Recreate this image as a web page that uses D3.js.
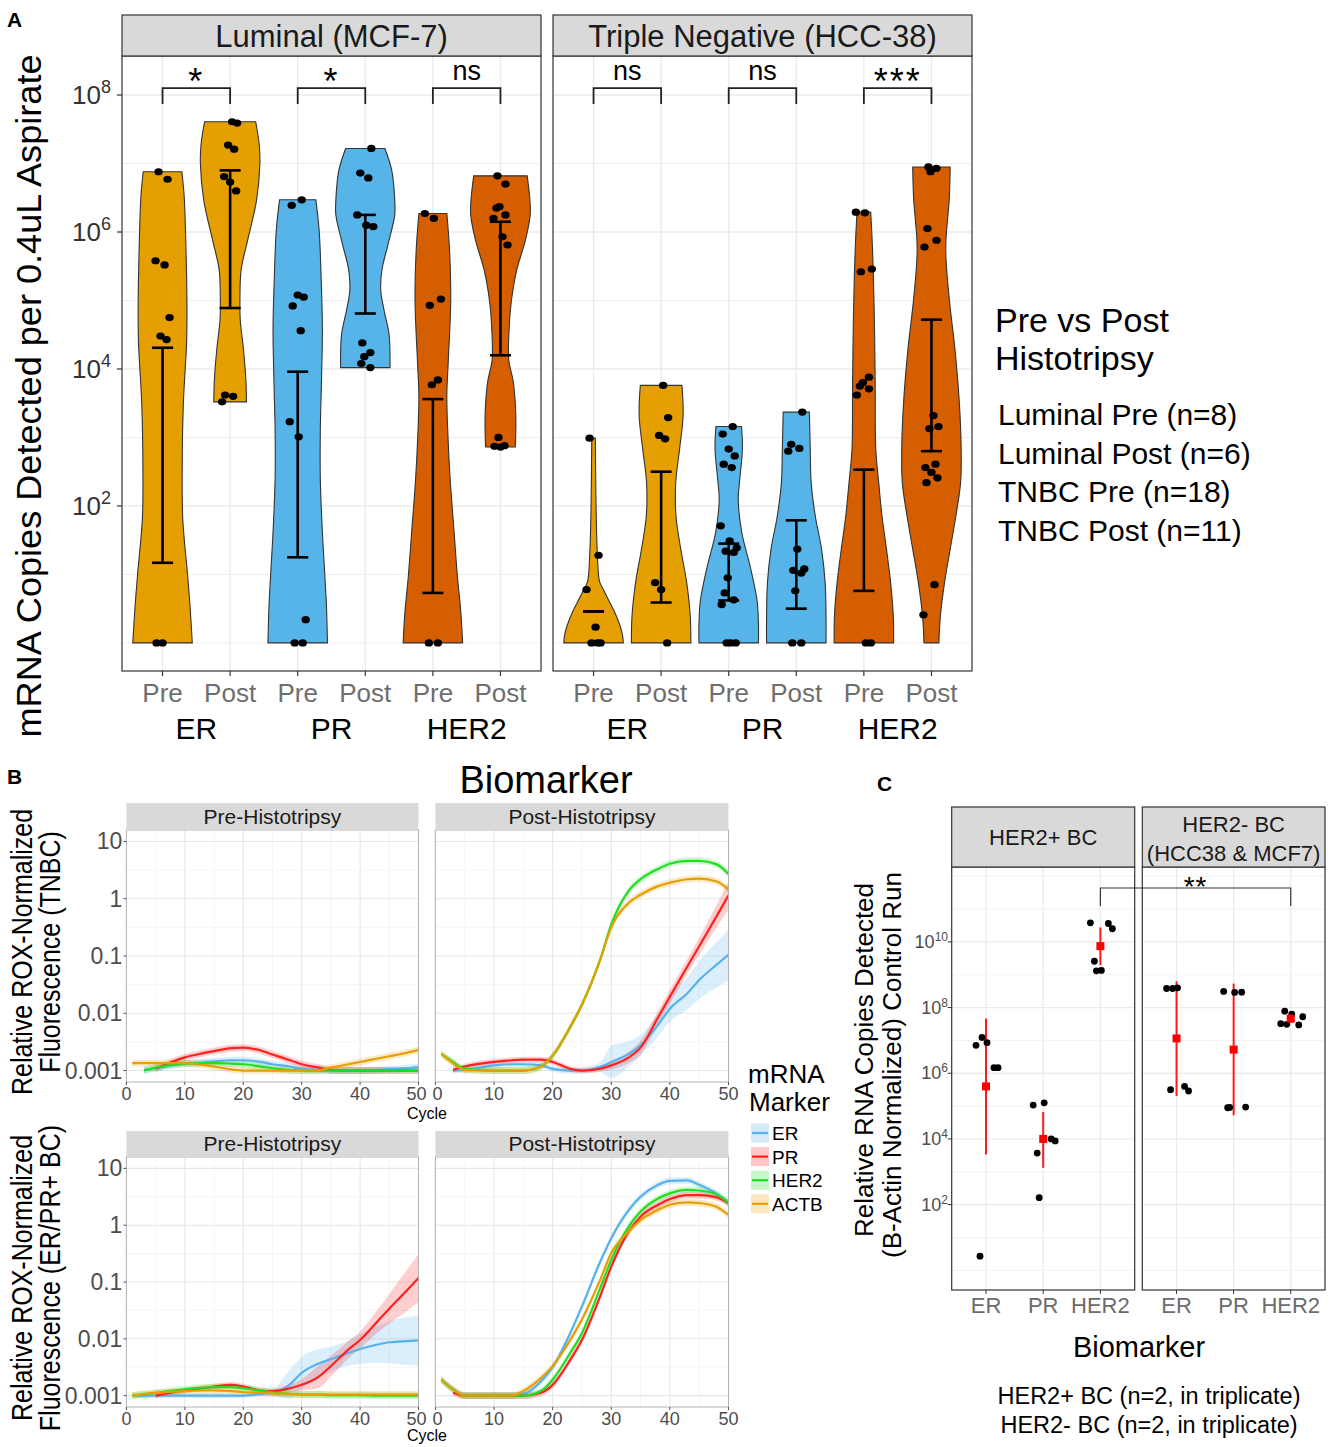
<!DOCTYPE html>
<html lang="en">
<head>
<meta charset="UTF-8">
<title>Histotripsy biomarker figure</title>
<script src="https://cdn.jsdelivr.net/npm/d3@7"></script>
<style>
  body { margin: 0; background: #fff; }
  svg { font-family: "Liberation Sans", Arial, sans-serif; }
</style>
</head>
<body>
<script>
// ================= DATA =================
// ---- Panel A: log10 mRNA copies per 0.4uL aspirate (0 = none detected) ----
const markers = ["ER", "PR", "HER2"];
const phases = ["Pre", "Post"];
const cohortsA = ["Luminal (MCF-7)", "Triple Negative (HCC-38)"];
const sigLum = ["*", "*", "ns"];
const sigTn = ["ns", "ns", "***"];

const lumErPre = [6.88, 6.77, 5.58, 5.52, 4.75, 4.48, 4.43, 0, 0];
const lumErPost = [7.61, 7.59, 7.27, 7.21, 6.81, 6.73, 6.60, 3.62, 3.60, 3.52];
const lumPrPre = [6.47, 6.39, 5.08, 5.05, 4.92, 4.56, 3.23, 3.01, 0.34, 0, 0];
const lumPrPost = [7.22, 6.86, 6.79, 6.25, 6.10, 6.08, 4.38, 4.24, 4.18, 4.08, 4.02];
const lumHer2Pre = [6.27, 6.20, 5.02, 4.93, 3.84, 3.77, 0, 0];
const lumHer2Post = [6.82, 6.70, 6.37, 6.35, 6.25, 6.20, 5.93, 5.81, 3.0, 2.88, 2.87, 2.86];
const tnErPre = [2.99, 1.28, 0.78, 0.23, 0, 0, 0];
const tnErPost = [3.76, 3.29, 3.03, 2.98, 0.88, 0.78, 0];
const tnPrPre = [3.16, 3.05, 2.83, 2.73, 2.61, 2.56, 1.71, 1.49, 1.39, 1.34, 1.32, 0.95, 0.73, 0.63, 0.56, 0, 0, 0];
const tnPrPost = [3.37, 2.90, 2.84, 2.80, 1.37, 1.08, 1.06, 1.02, 0.76, 0, 0];
const tnHer2Pre = [6.29, 6.28, 5.46, 5.42, 3.88, 3.80, 3.75, 3.71, 3.62, 0, 0];
const tnHer2Post = [6.95, 6.93, 6.88, 6.05, 5.88, 5.78, 3.32, 3.16, 3.13, 2.61, 2.56, 2.49, 2.41, 2.34, 0.85, 0.41];

// error bars (log10), order ER Pre, ER Post, PR Pre, PR Post, HER2 Pre, HER2 Post
const lumErrLow = [1.17, 4.89, 1.25, 4.81, 0.73, 4.20];
const lumErrHigh = [4.31, 6.90, 3.96, 6.25, 3.56, 6.15];
const tnErrLow = [0.46, 0.59, 0.62, 0.50, 0.76, 2.80];
const tnErrHigh = [0.46, 2.50, 1.45, 1.79, 2.53, 4.72];

// violin outlines: [log10 level, relative width]
const lumErPreShape = [[0,1.0],[0.5,0.93],[1.0,0.84],[1.8,0.68],[2.5,0.66],[3.5,0.70],[4.4,0.81],[5.0,0.82],[5.7,0.79],[6.5,0.73],[6.88,0.65]];
const lumErPostShape = [[3.52,0.55],[3.84,0.53],[4.28,0.45],[4.72,0.34],[5.0,0.33],[5.45,0.37],[5.88,0.59],[6.47,0.89],[7.0,1.0],[7.27,0.98],[7.61,0.86]];
const lumPrPreShape = [[0,1.0],[0.5,0.97],[1.0,0.91],[1.7,0.82],[2.4,0.76],[3.1,0.76],[3.84,0.8],[4.57,0.83],[5.3,0.79],[6.03,0.72],[6.47,0.61]];
const lumPrPostShape = [[4.02,0.83],[4.5,0.8],[4.86,0.63],[5.15,0.52],[5.45,0.56],[5.81,0.76],[6.25,0.99],[6.47,0.99],[6.9,0.89],[7.22,0.66]];
const lumHer2PreShape = [[0,1.0],[0.45,0.94],[1.0,0.82],[1.7,0.7],[2.4,0.58],[3.1,0.5],[3.62,0.47],[4.13,0.52],[5.0,0.6],[5.74,0.56],[6.27,0.47]];
const lumHer2PostShape = [[2.86,0.5],[3.2,0.52],[3.5,0.5],[3.84,0.42],[4.13,0.28],[4.57,0.29],[5.0,0.37],[5.45,0.55],[5.88,0.84],[6.25,1.0],[6.47,0.99],[6.82,0.9]];
const tnErPreShape = [[0,1.0],[0.1,0.98],[0.24,0.9],[0.46,0.7],[0.63,0.5],[0.78,0.33],[0.9,0.2],[1.28,0.13],[1.85,0.09],[2.5,0.07],[2.99,0.06]];
const tnErPostShape = [[0,1.0],[0.39,0.98],[0.88,0.86],[1.37,0.66],[1.85,0.5],[2.34,0.49],[2.83,0.62],[3.32,0.74],[3.76,0.7]];
const tnPrPreShape = [[0,1.0],[0.29,1.0],[0.63,0.95],[1.12,0.72],[1.61,0.44],[2.1,0.32],[2.34,0.36],[2.83,0.46],[3.16,0.43]];
const tnPrPostShape = [[0,1.0],[0.39,1.0],[0.88,0.97],[1.37,0.85],[1.85,0.64],[2.34,0.5],[2.83,0.47],[3.37,0.44]];
const tnHer2PreShape = [[0,1.0],[0.39,0.99],[0.88,0.9],[1.37,0.76],[1.85,0.61],[2.34,0.5],[2.83,0.4],[3.8,0.38],[4.78,0.35],[5.76,0.29],[6.29,0.23]];
const tnHer2PostShape = [[0,0.25],[0.39,0.3],[0.88,0.44],[1.37,0.63],[1.85,0.82],[2.34,0.98],[2.83,1.0],[3.56,0.93],[4.29,0.79],[5.02,0.6],[5.76,0.48],[6.49,0.6],[6.95,0.63]];

const legendA = ["Luminal Pre (n=8)", "Luminal Post (n=6)", "TNBC Pre (n=18)", "TNBC Post (n=11)"];

// ---- Panel B: log10 relative ROX-normalized fluorescence by cycle ----
const bMarkers = ["ER", "PR", "HER2", "ACTB"];
const bCycles = [1, 3, 5, 10, 13, 15, 18, 20, 23, 25, 28, 30, 33, 35, 38, 40, 43, 45, 48, 50];

const tnPreER = [null, -2.99, -2.96, -2.88, -2.86, -2.84, -2.82, -2.82, -2.85, -2.89, -2.93, -2.97, -2.99, -3.0, -3.0, -3.0, -2.99, -2.98, -2.96, -2.94];
const tnPrePR = [null, null, -2.97, -2.77, -2.70, -2.66, -2.61, -2.60, -2.65, -2.72, -2.82, -2.89, -2.95, -2.99, -3.0, -3.0, -3.0, -3.0, -3.0, -3.0];
const tnPreHER2 = [null, -3.0, -2.95, -2.88, -2.87, -2.87, -2.88, -2.89, -2.93, -2.96, -2.99, -3.0, -3.0, -3.0, -3.0, -3.0, -3.0, -3.0, -3.0, -3.0];
const tnPreACTB = [-2.87, -2.87, -2.87, -2.87, -2.90, -2.93, -2.98, -3.0, -3.0, -3.0, -3.0, -3.0, -2.99, -2.95, -2.89, -2.85, -2.79, -2.75, -2.69, -2.64];

const tnPostER = [null, -3.0, -2.99, -2.91, -2.89, -2.89, -2.91, -2.97, -3.0, -3.0, -2.94, -2.85, -2.71, -2.56, -2.2, -1.92, -1.65, -1.42, -1.15, -0.98];
const tnPostPR = [null, -2.99, -2.93, -2.85, -2.82, -2.81, -2.81, -2.85, -2.97, -3.0, -2.97, -2.91, -2.77, -2.6, -2.07, -1.71, -1.18, -0.83, -0.3, 0.06];
const tnPostHER2 = [-2.71, -2.85, -2.97, -3.0, -3.0, -3.0, -2.93, -2.74, -2.24, -1.85, -1.1, -0.45, 0.14, 0.34, 0.52, 0.61, 0.66, 0.66, 0.6, 0.43];
const tnPostACTB = [-2.71, -2.87, -2.99, -3.0, -3.0, -3.0, -2.93, -2.74, -2.24, -1.85, -1.1, -0.5, -0.07, 0.07, 0.22, 0.28, 0.34, 0.35, 0.3, 0.16];

const lumPreER = [-3.0, -3.0, -3.0, -3.0, -3.0, -3.0, -3.0, -3.0, -2.97, -2.95, -2.8, -2.6, -2.43, -2.36, -2.25, -2.18, -2.1, -2.06, -2.04, -2.03];
const lumPrePR = [null, null, -3.0, -2.91, -2.87, -2.84, -2.81, -2.84, -2.91, -2.92, -2.87, -2.81, -2.66, -2.48, -2.19, -2.02, -1.69, -1.47, -1.15, -0.93];
const lumPreHER2 = [-3.0, -2.98, -2.95, -2.89, -2.86, -2.85, -2.85, -2.87, -2.91, -2.94, -2.97, -2.98, -2.98, -2.99, -2.99, -2.99, -3.0, -3.0, -3.0, -3.0];
const lumPreACTB = [-3.0, -2.97, -2.95, -2.92, -2.91, -2.91, -2.92, -2.94, -2.95, -2.96, -2.97, -2.98, -2.98, -2.98, -2.98, -2.98, -2.98, -2.98, -2.98, -2.98];

const lumPostER = [-2.72, -2.89, -3.0, -3.0, -3.0, -2.97, -2.75, -2.5, -1.9, -1.43, -0.67, -0.23, 0.27, 0.5, 0.71, 0.78, 0.79, 0.71, 0.55, 0.39];
const lumPostPR = [null, -2.95, -3.0, -3.0, -3.0, -3.0, -2.95, -2.81, -2.37, -2.02, -1.28, -0.73, -0.11, 0.15, 0.36, 0.46, 0.53, 0.53, 0.49, 0.39];
const lumPostHER2 = [-2.72, -2.89, -3.0, -3.0, -3.0, -3.0, -2.92, -2.72, -2.25, -1.9, -1.14, -0.61, -0.02, 0.24, 0.47, 0.56, 0.62, 0.61, 0.54, 0.39];
const lumPostACTB = [-2.72, -2.89, -3.0, -3.0, -3.0, -2.92, -2.69, -2.48, -2.02, -1.66, -0.99, -0.49, -0.11, 0.09, 0.27, 0.36, 0.40, 0.39, 0.32, 0.18];

// confidence band half-widths (decades) where the band is visibly wide
const tnPostERBand = [null, 0.05, 0.05, 0.05, 0.05, 0.05, 0.05, 0.05, 0.05, 0.05, 0.08, 0.28, 0.22, 0.18, 0.2, 0.23, 0.28, 0.33, 0.4, 0.44];
const tnPostPRBand = [null, 0.05, 0.05, 0.05, 0.05, 0.05, 0.05, 0.05, 0.05, 0.05, 0.05, 0.07, 0.1, 0.12, 0.12, 0.12, 0.13, 0.15, 0.2, 0.25];
const lumPreERBand = [0.04, 0.04, 0.04, 0.04, 0.04, 0.04, 0.04, 0.04, 0.04, 0.06, 0.26, 0.28, 0.25, 0.22, 0.22, 0.26, 0.32, 0.37, 0.42, 0.44];
const lumPrePRBand = [null, null, 0.05, 0.05, 0.05, 0.05, 0.05, 0.05, 0.05, 0.05, 0.06, 0.1, 0.2, 0.18, 0.15, 0.15, 0.2, 0.26, 0.36, 0.42];

// ---- Panel C: log10 relative RNA copies (B-actin normalized) ----
const cFacets = ["HER2+ BC", "HER2- BC (HCC38 & MCF7)"];
const cPosEr = [7.09, 6.93, 6.85, 6.17, 6.17, 0.43];
const cPosPr = [5.10, 5.03, 4.00, 3.94, 3.57, 2.21];
const cPosHer2 = [10.58, 10.56, 10.40, 9.41, 9.12, 9.13];
const cNegEr = [8.58, 8.60, 8.58, 5.60, 5.46, 5.50];
const cNegPr = [8.46, 8.49, 8.47, 4.97, 4.95, 4.96];
const cNegHer2 = [7.51, 7.47, 7.72, 7.89, 7.49, 7.80];
const cPosMean = [5.60, 4.00, 9.87], cPosLow = [3.53, 3.12, 9.29], cPosHigh = [7.66, 4.82, 10.44];
const cNegMean = [7.06, 6.72, 7.66], cNegLow = [5.31, 4.72, 7.53], cNegHigh = [8.80, 8.73, 7.82];
const cFootnotes = ["HER2+ BC (n=2, in triplicate)", "HER2- BC (n=2, in triplicate)"];

// ================= DRAWING =================
const markerFill = {ER: "#E69F00", PR: "#56B4E9", HER2: "#D55E00"};
const bColors = ["#56B1EC", "#FF2020", "#22DD22", "#E69F00"];
const jit = [-4, 5, -7, 2, 7, -2, 4, -6, 0, 6, -5, 3, -8, 1, 8, -3, 5, -1];
const jitC = [-4, 1, -10, 8, 12, -6];

const svg = d3.select("body").append("svg").attr("width", 1333).attr("height", 1447);
const defs = svg.append("defs");

function line(g, x1, y1, x2, y2, col, w) {
  return g.append("line").attr("x1", x1).attr("y1", y1).attr("x2", x2).attr("y2", y2)
    .attr("stroke", col).attr("stroke-width", w);
}
function txt(g, x, y, s, size, opts = {}) {
  return g.append("text").attr("x", x).attr("y", y).attr("font-size", size)
    .attr("text-anchor", opts.anchor || "start").attr("fill", opts.fill || "#000").text(s);
}
function supText(g, x, y, base, exp, size, supSize, rise, fill) {
  const t = g.append("text").attr("x", x).attr("y", y).attr("font-size", size)
    .attr("text-anchor", "end").attr("fill", fill);
  t.append("tspan").text(base);
  t.append("tspan").attr("font-size", supSize).attr("dy", -rise).text(exp);
}

// ---------- Panel A ----------
const gA = svg.append("g");
txt(gA, 7, 27, "A", 21).attr("font-weight", "bold");
const yA = d3.scaleLinear().domain([-0.41, 8.57]).range([671, 56]);
const groupKeys = markers.flatMap(m => phases.map(p => m + " " + p));
const facetsA = [
  {title: cohortsA[0], x0: 122, x1: 541, sig: sigLum, lo: lumErrLow, hi: lumErrHigh,
   pts: [lumErPre, lumErPost, lumPrPre, lumPrPost, lumHer2Pre, lumHer2Post],
   shapes: [lumErPreShape, lumErPostShape, lumPrPreShape, lumPrPostShape, lumHer2PreShape, lumHer2PostShape]},
  {title: cohortsA[1], x0: 553, x1: 972, sig: sigTn, lo: tnErrLow, hi: tnErrHigh,
   pts: [tnErPre, tnErPost, tnPrPre, tnPrPost, tnHer2Pre, tnHer2Post],
   shapes: [tnErPreShape, tnErPostShape, tnPrPreShape, tnPrPostShape, tnHer2PreShape, tnHer2PostShape]}
];
facetsA.forEach((f, fi) => {
  const x = d3.scalePoint().domain(groupKeys).range([f.x0, f.x1]).padding(0.6);
  const hw = x.step() * 0.44;
  const g = gA.append("g");
  [0, 1, 3, 5, 7].forEach(v => line(g, f.x0, yA(v), f.x1, yA(v), "#ededed", 0.9));
  [2, 4, 6, 8].forEach(v => line(g, f.x0, yA(v), f.x1, yA(v), "#ebebeb", 1.4));
  groupKeys.forEach(k => line(g, x(k), 56, x(k), 671, "#ebebeb", 1.4));

  groupKeys.forEach((k, i) => {
    const cx = x(k);
    const area = d3.area().curve(d3.curveCatmullRom.alpha(0.5))
      .y(d => yA(d[0])).x0(d => cx - hw * d[1]).x1(d => cx + hw * d[1]);
    g.append("path").attr("d", area(f.shapes[i]))
      .attr("fill", markerFill[markers[Math.floor(i / 2)]]).attr("stroke", "#333").attr("stroke-width", 1.1);
  });
  groupKeys.forEach((k, i) => {
    const cx = x(k), lo = yA(f.lo[i]), hi = yA(f.hi[i]);
    line(g, cx, lo, cx, hi, "#000", 2.6);
    line(g, cx - 10.5, lo, cx + 10.5, lo, "#000", 2.6);
    line(g, cx - 10.5, hi, cx + 10.5, hi, "#000", 2.6);
  });
  groupKeys.forEach((k, i) => {
    g.selectAll(null).data(f.pts[i]).join("ellipse")
      .attr("cx", (d, j) => x(k) + jit[(j + i * 3) % jit.length])
      .attr("cy", d => yA(d)).attr("rx", 4.2).attr("ry", 3.6).attr("fill", "#000");
  });
  g.append("rect").attr("x", f.x0).attr("y", 56).attr("width", f.x1 - f.x0).attr("height", 615)
    .attr("fill", "none").attr("stroke", "#333").attr("stroke-width", 1.2);
  g.append("rect").attr("x", f.x0).attr("y", 15).attr("width", f.x1 - f.x0).attr("height", 41)
    .attr("fill", "#d9d9d9").attr("stroke", "#333").attr("stroke-width", 1.2);
  txt(g, (f.x0 + f.x1) / 2, 47, f.title, 31, {anchor: "middle", fill: "#1a1a1a"});

  // significance brackets
  markers.forEach((m, j) => {
    const xa = x(m + " Pre"), xb = x(m + " Post");
    const yt = yA(8.10), yl = yA(7.87);
    g.append("path").attr("d", `M${xa},${yl}V${yt}H${xb}V${yl}`)
      .attr("fill", "none").attr("stroke", "#222").attr("stroke-width", 1.8);
    const s = f.sig[j];
    if (s === "ns") txt(g, (xa + xb) / 2, 80, s, 27, {anchor: "middle"});
    else txt(g, (xa + xb) / 2, 94, s, 36, {anchor: "middle"}).attr("letter-spacing", 2);
  });

  // x axis
  groupKeys.forEach((k, i) => {
    line(g, x(k), 671, x(k), 676, "#333", 1.2);
    txt(g, x(k), 702, phases[i % 2], 26, {anchor: "middle", fill: "#6e6e6e"});
  });
  markers.forEach(m => txt(g, (x(m + " Pre") + x(m + " Post")) / 2, 739, m, 30, {anchor: "middle"}));

  if (fi === 0) {
    [2, 4, 6, 8].forEach(v => {
      line(g, 117, yA(v), 122, yA(v), "#333", 1.2);
      supText(g, 111, yA(v) + 9, "10", String(v), 26, 18, 11, "#333");
    });
  }
});
gA.append("text").attr("transform", "translate(41,396) rotate(-90)").attr("text-anchor", "middle")
  .attr("font-size", 35).attr("textLength", 683).attr("lengthAdjust", "spacingAndGlyphs")
  .text("mRNA Copies Detected per 0.4uL Aspirate");
txt(gA, 995, 332, "Pre vs Post", 34);
txt(gA, 995, 370, "Histotripsy", 34);
legendA.forEach((s, i) => txt(gA, 998, 425 + i * 38.5, s, 30));

// ---------- Panel B ----------
const gB = svg.append("g");
txt(gB, 7, 784, "B", 21).attr("font-weight", "bold");
txt(gB, 546, 793, "Biomarker", 38, {anchor: "middle"});
const bRows = [
  {title: ["Relative ROX-Normalized", "Fluorescence (TNBC)"], strip: 803, top: 830, bot: 1082, tickBase: 1100, cycleBase: 1119},
  {title: ["Relative ROX-Normalized", "Fluorescence (ER/PR+ BC)"], strip: 1131, top: 1157, bot: 1407, tickBase: 1425, cycleBase: 1441}
];
bRows[0].series = [[tnPreER, tnPrePR, tnPreHER2, tnPreACTB], [tnPostER, tnPostPR, tnPostHER2, tnPostACTB]];
bRows[0].bands = [[null, null, null, null], [tnPostERBand, tnPostPRBand, null, null]];
bRows[1].series = [[lumPreER, lumPrePR, lumPreHER2, lumPreACTB], [lumPostER, lumPostPR, lumPostHER2, lumPostACTB]];
bRows[1].bands = [[lumPreERBand, lumPrePRBand, null, null], [null, null, null, null]];
const bCols = [{name: "Pre-Histotripsy", x0: 126.4, x1: 418.5}, {name: "Post-Histotripsy", x0: 435.4, x1: 728.5}];
const fmtB = v => v < 0 ? Math.pow(10, v).toFixed(-v) : String(Math.pow(10, v));

bRows.forEach((r, ri) => {
  const y = d3.scaleLinear().domain([-3.2, 1.2]).range([r.bot, r.top]);
  bCols.forEach((c, ci) => {
    const x = d3.scaleLinear().domain([0, 50]).range([c.x0, c.x1]);
    const g = gB.append("g");
    const cid = `clipB${ri}${ci}`;
    defs.append("clipPath").attr("id", cid).append("rect")
      .attr("x", c.x0).attr("y", r.top).attr("width", c.x1 - c.x0).attr("height", r.bot - r.top);
    [-2.5, -1.5, -0.5, 0.5].forEach(v => line(g, c.x0, y(v), c.x1, y(v), "#f2f2f2", 0.8));
    [5, 15, 25, 35, 45].forEach(v => line(g, x(v), r.top, x(v), r.bot, "#f2f2f2", 0.8));
    [-3, -2, -1, 0, 1].forEach(v => line(g, c.x0, y(v), c.x1, y(v), "#e6e6e6", 1.1));
    [0, 10, 20, 30, 40, 50].forEach(v => line(g, x(v), r.top, x(v), r.bot, "#e6e6e6", 1.1));

    const pg = g.append("g").attr("clip-path", `url(#${cid})`);
    r.series[ci].forEach((vals, si) => {
      const band = r.bands[ci][si];
      const pts = bCycles.map((cy, k) => ({c: cy, v: vals[k], b: band ? band[k] : 0.06}));
      const area = d3.area().defined(d => d.v != null && d.b != null).curve(d3.curveMonotoneX)
        .x(d => x(d.c)).y0(d => y(d.v - d.b)).y1(d => y(d.v + d.b));
      pg.append("path").attr("d", area(pts)).attr("fill", bColors[si]).attr("opacity", 0.22);
    });
    r.series[ci].forEach((vals, si) => {
      const pts = bCycles.map((cy, k) => ({c: cy, v: vals[k]}));
      const ln = d3.line().defined(d => d.v != null).curve(d3.curveMonotoneX)
        .x(d => x(d.c)).y(d => y(d.v));
      pg.append("path").attr("d", ln(pts)).attr("fill", "none").attr("stroke", bColors[si]).attr("stroke-width", 2.2);
    });
    g.append("rect").attr("x", c.x0).attr("y", r.top).attr("width", c.x1 - c.x0).attr("height", r.bot - r.top)
      .attr("fill", "none").attr("stroke", "#b3b3b3").attr("stroke-width", 1);
    g.append("rect").attr("x", c.x0).attr("y", r.strip).attr("width", c.x1 - c.x0).attr("height", r.top - r.strip)
      .attr("fill", "#d9d9d9");
    txt(g, (c.x0 + c.x1) / 2, (r.strip + r.top) / 2 + 7, c.name, 21, {anchor: "middle", fill: "#1a1a1a"});
    [0, 10, 20, 30, 40, 50].forEach(v => {
      line(g, x(v), r.bot, x(v), r.bot + 3, "#555", 1);
      // the touching "50 | 0" pair between panels is nudged apart slightly
      const nudge = (ci === 0 && v === 50) ? -2 : (ci === 1 && v === 0) ? 2 : 0;
      txt(g, x(v) + nudge, r.tickBase, String(v), 18, {anchor: "middle", fill: "#4d4d4d"});
    });
    if (ci === 0) {
      [-3, -2, -1, 0, 1].forEach(v => {
        line(g, c.x0 - 3, y(v), c.x0, y(v), "#555", 1);
        txt(g, c.x0 - 4, y(v) + 8, fmtB(v), 23, {anchor: "end", fill: "#4d4d4d"});
      });
    }
  });
  txt(gB, 427, r.cycleBase, "Cycle", 16, {anchor: "middle"});
  const cy = (r.top + r.bot) / 2 - 4;
  gB.append("text").attr("transform", `translate(32,${cy}) rotate(-90) scale(1,1.2)`).attr("text-anchor", "middle")
    .attr("font-size", 25).text(r.title[0]);
  gB.append("text").attr("transform", `translate(60,${cy}) rotate(-90) scale(1,1.2)`).attr("text-anchor", "middle")
    .attr("font-size", 25).text(r.title[1]);
});

// legend B
txt(gB, 748, 1083, "mRNA", 26);
txt(gB, 749, 1111, "Marker", 26);
bMarkers.forEach((m, i) => {
  const yc = 1133 + i * 23.6;
  gB.append("rect").attr("x", 751).attr("y", yc - 9.5).attr("width", 18).attr("height", 19)
    .attr("fill", bColors[i]).attr("opacity", 0.25);
  line(gB, 752, yc, 768, yc, bColors[i], 2.2);
  txt(gB, 772, yc + 7, m, 19);
});

// ---------- Panel C ----------
const gC = svg.append("g");
txt(gC, 877, 791, "C", 21).attr("font-weight", "bold");
const yC = d3.scaleLinear().domain([-0.6, 12.28]).range([1290, 867]);
const facetsC = [
  {x0: 951.7, x1: 1134.7, lines: ["HER2+ BC"], pts: [cPosEr, cPosPr, cPosHer2], mean: cPosMean, lo: cPosLow, hi: cPosHigh},
  {x0: 1142.3, x1: 1325, lines: ["HER2- BC", "(HCC38 & MCF7)"], pts: [cNegEr, cNegPr, cNegHer2], mean: cNegMean, lo: cNegLow, hi: cNegHigh}
];
const xCs = [];
facetsC.forEach((f, fi) => {
  const x = d3.scalePoint().domain(markers).range([f.x0, f.x1]).padding(0.6);
  xCs.push(x);
  const g = gC.append("g");
  [0, 1, 3, 5, 7, 9, 11, 12].forEach(v => line(g, f.x0, yC(v), f.x1, yC(v), "#f0f0f0", 0.9));
  [2, 4, 6, 8, 10].forEach(v => line(g, f.x0, yC(v), f.x1, yC(v), "#ebebeb", 1.3));
  markers.forEach(m => line(g, x(m), 867, x(m), 1290, "#ebebeb", 1.3));
  markers.forEach((m, i) => {
    line(g, x(m), yC(f.lo[i]), x(m), yC(f.hi[i]), "#ff1a1a", 2);
    g.selectAll(null).data(f.pts[i]).join("circle")
      .attr("cx", (d, j) => x(m) + jitC[(j + i) % jitC.length]).attr("cy", d => yC(d))
      .attr("r", 3.4).attr("fill", "#000");
    g.append("rect").attr("x", x(m) - 4).attr("y", yC(f.mean[i]) - 4).attr("width", 8).attr("height", 8)
      .attr("fill", "#ff0000");
    line(g, x(m), 1290, x(m), 1294, "#333", 1);
    txt(g, x(m), 1313, m, 22, {anchor: "middle", fill: "#6b6b6b"});
  });
  g.append("rect").attr("x", f.x0).attr("y", 867).attr("width", f.x1 - f.x0).attr("height", 423)
    .attr("fill", "none").attr("stroke", "#333").attr("stroke-width", 1.2);
  g.append("rect").attr("x", f.x0).attr("y", 807).attr("width", f.x1 - f.x0).attr("height", 60)
    .attr("fill", "#d9d9d9").attr("stroke", "#333").attr("stroke-width", 1.2);
  if (f.lines.length === 1) txt(g, (f.x0 + f.x1) / 2, 845, f.lines[0], 22, {anchor: "middle", fill: "#1a1a1a"});
  else f.lines.forEach((s, k) => txt(g, (f.x0 + f.x1) / 2, 832 + k * 28.5, s, 22, {anchor: "middle", fill: "#1a1a1a"}));
  if (fi === 0) {
    [2, 4, 6, 8, 10].forEach(v => {
      line(g, f.x0 - 4, yC(v), f.x0, yC(v), "#333", 1);
      supText(g, 948, yC(v) + 6, "10", String(v), 18, 12, 7, "#4d4d4d");
    });
  }
});
// bracket across facets
{
  const xa = xCs[0]("HER2"), xb = xCs[1]("HER2");
  const yt = yC(11.64), yl = yC(11.09);
  gC.append("path").attr("d", `M${xa},${yl}V${yt}H${xb}V${yl}`).attr("fill", "none")
    .attr("stroke", "#333").attr("stroke-width", 1.2);
  txt(gC, (xa + xb) / 2, 896, "**", 28, {anchor: "middle"}).attr("letter-spacing", 1);
}
gC.append("text").attr("transform", "translate(873,1060) rotate(-90)").attr("text-anchor", "middle")
  .attr("font-size", 26).text("Relative RNA Copies Detected");
gC.append("text").attr("transform", "translate(901,1065) rotate(-90)").attr("text-anchor", "middle")
  .attr("font-size", 26).text("(B-Actin Normalized) Control Run");
txt(gC, 1139, 1357, "Biomarker", 29, {anchor: "middle"});
cFootnotes.forEach((s, i) => txt(gC, 1149, 1404 + i * 29, s, 23.5, {anchor: "middle"}));
</script>
</body>
</html>
